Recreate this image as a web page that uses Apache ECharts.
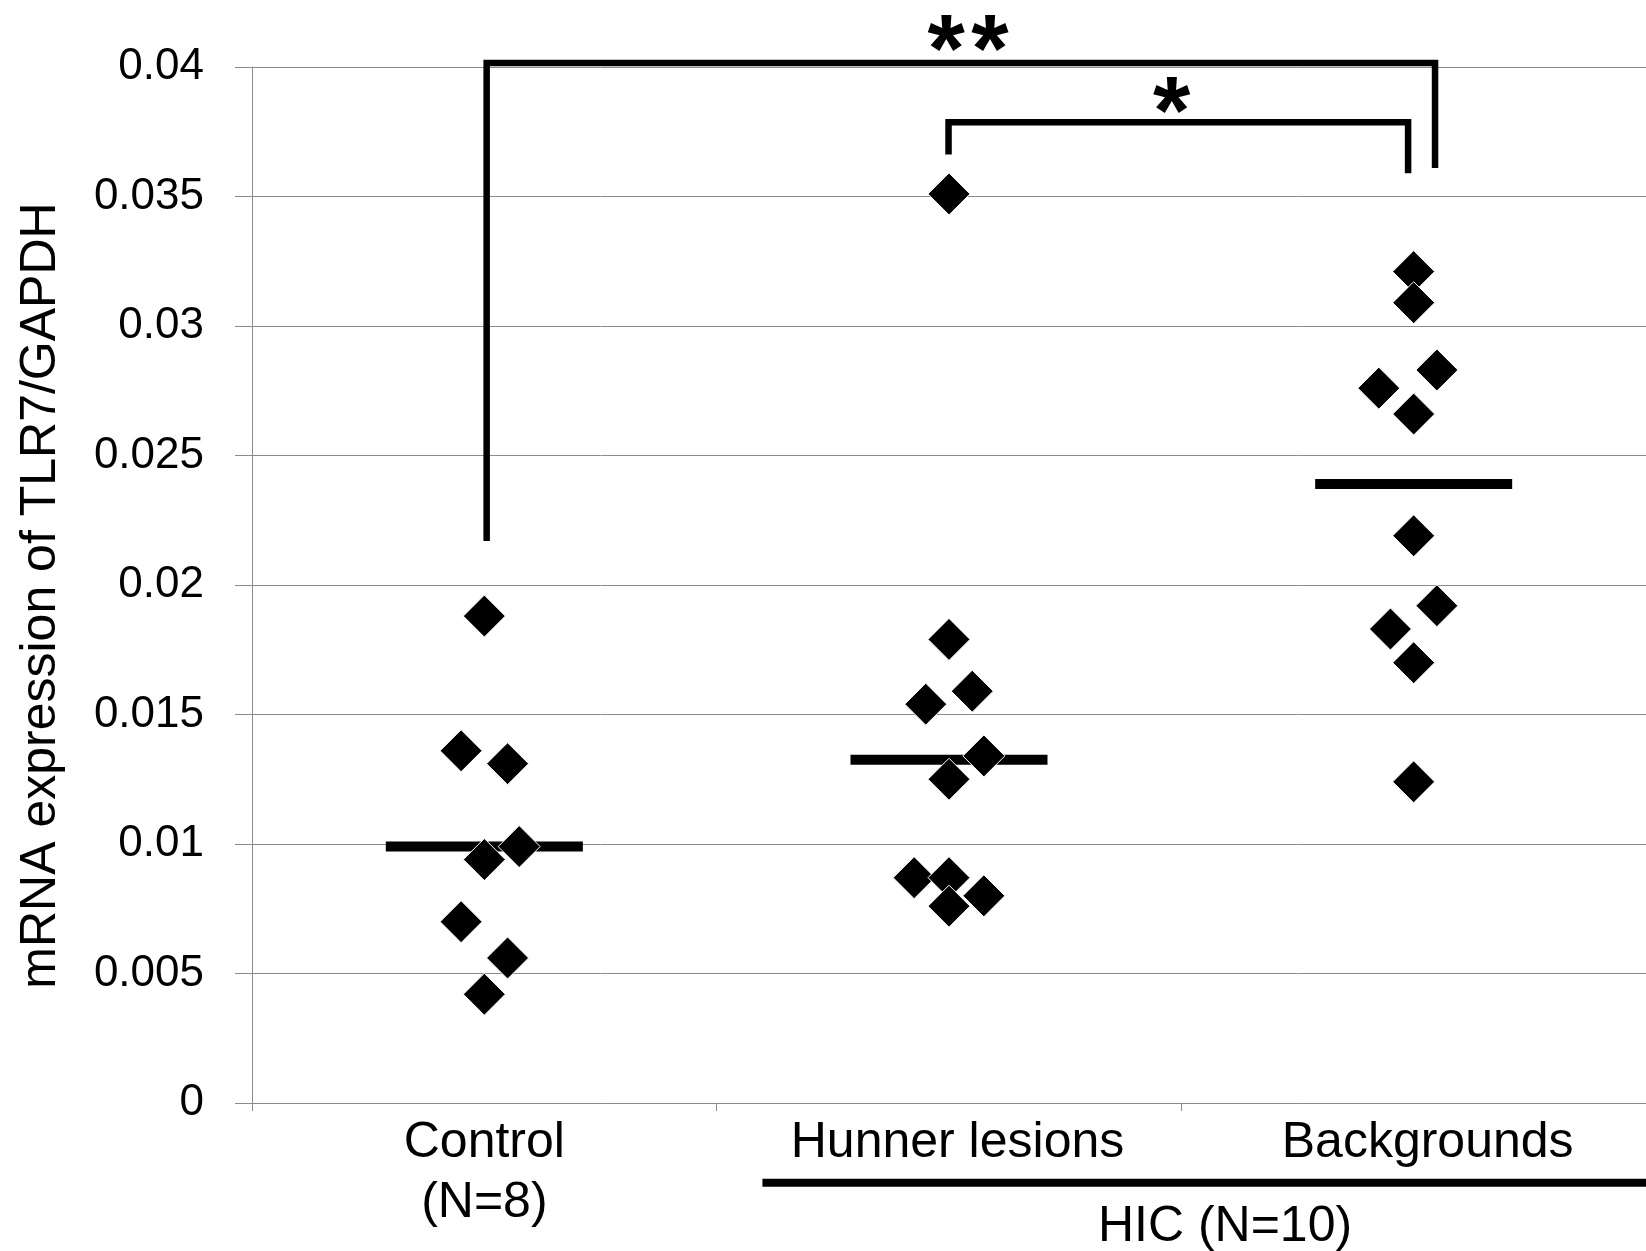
<!DOCTYPE html>
<html><head><meta charset="utf-8">
<script src="https://cdn.jsdelivr.net/npm/echarts@6/dist/echarts.min.js"></script>
<style>html,body{margin:0;padding:0;background:#fff}#chart{width:1646px;height:1251px}</style>
</head><body><div id="chart"></div>
<script>
const categories = ['Control\n(N=8)', 'Hunner lesions', 'Backgrounds'];
const controlValues = [0.0188, 0.0136, 0.0131, 0.0099, 0.0094, 0.0070, 0.0056, 0.0042];
const controlJitter = [0, -0.05, 0.05, 0.075, 0, -0.05, 0.05, 0];
const hunnerValues = [0.0351, 0.0179, 0.0159, 0.0154, 0.0134, 0.0125, 0.0087, 0.0087, 0.0080, 0.0076];
const hunnerJitter = [0, 0, 0.05, -0.05, 0.075, 0, -0.075, 0, 0.075, 0];
const backgroundValues = [0.0321, 0.0309, 0.0283, 0.0276, 0.0266, 0.0219, 0.0192, 0.0183, 0.0170, 0.0124];
const backgroundJitter = [0, 0, 0.05, -0.075, 0, 0, 0.05, -0.05, 0, 0];
const medians = [0.0099, 0.01325, 0.0239];
const yTickLabels = ['0', '0.005', '0.01', '0.015', '0.02', '0.025', '0.03', '0.035', '0.04'];
const outerBracket = [[0.505, 0.0217], [0.505, 0.04015], [2.546, 0.04015], [2.546, 0.0361]];
const innerBracket = [[1.499, 0.03662], [1.499, 0.03787], [2.488, 0.03787], [2.488, 0.0359]];
const sigMarks = [['*', 1.494, 0.0405], ['*', 1.588, 0.0405], ['*', 1.979, 0.0381]];
const groupLine = [[1.0985, -0.00308], [3.05, -0.00308]];
const groupLabel = ['HIC (N=10)', 2.094, -0.00479];

const FONT = 'Liberation Sans, Arial, sans-serif';
const GRAY = '#8c8c8c';

const groups = [[controlValues, controlJitter], [hunnerValues, hunnerJitter], [backgroundValues, backgroundJitter]];
const points = [];
groups.forEach(([vals, jit], i) => vals.forEach((v, k) => points.push([i + 0.5 + jit[k], v])));

const medianSeries = medians.map((m, i) => ({
  type: 'line', xAxisIndex: 1, yAxisIndex: 0, showSymbol: false, symbol: 'none', silent: true, z: 3,
  data: [[i + 0.5 - 0.212, m], [i + 0.5 + 0.212, m]],
  lineStyle: { color: '#000', width: 10, cap: 'butt', opacity: 1 }
}));

const bracketSeries = [outerBracket, innerBracket, groupLine].map((d, i) => ({
  type: 'line', xAxisIndex: 1, yAxisIndex: 0, showSymbol: false, symbol: 'none', clip: false, silent: true, z: 4,
  data: d,
  lineStyle: { color: '#000', width: i === 2 ? 8 : 6.5, cap: 'butt', join: 'miter', opacity: 1 }
}));

const textSeries = {
  type: 'scatter', xAxisIndex: 1, yAxisIndex: 0, clip: false, silent: true, symbolSize: 0, z: 6,
  itemStyle: { opacity: 1 },
  data: sigMarks.map(s => ({ value: [s[1], s[2]], name: s[0], label: { fontSize: 96, fontWeight: 'bold' } }))
    .concat([{ value: [groupLabel[1], groupLabel[2]], name: groupLabel[0], label: { fontSize: 50, fontWeight: 'normal' } }]),
  label: { show: true, position: 'inside', formatter: p => p.name, color: '#000', fontFamily: FONT, opacity: 1 }
};

const labelShift = { 'Hunner lesions': 17, 'Backgrounds': 28 };

const chart = echarts.init(document.getElementById('chart'), null, { renderer: 'canvas' });
chart.setOption({
  animation: false,
  backgroundColor: '#fff',
  grid: { left: 252, top: 67, width: 1401, height: 1036 },
  xAxis: [
    {
      type: 'category', data: categories, boundaryGap: true,
      axisLine: { show: true, lineStyle: { color: GRAY, width: 1 } },
      axisTick: { show: true, length: 8, lineStyle: { color: GRAY } },
      axisLabel: {
        fontSize: 50, lineHeight: 60, margin: 10, color: '#000', fontFamily: FONT, interval: 0,
        formatter: v => labelShift[v] ? '{s' + labelShift[v] + '|' + v + '}' : v,
        rich: {
          s17: { fontSize: 50, lineHeight: 60, color: '#000', fontFamily: FONT, padding: [0, 0, 0, 17] },
          s28: { fontSize: 50, lineHeight: 60, color: '#000', fontFamily: FONT, padding: [0, 0, 0, 28] }
        }
      },
      splitLine: { show: false }
    },
    { type: 'value', min: 0, max: 3, show: false }
  ],
  yAxis: {
    type: 'value', min: 0, max: 0.04, interval: 0.005,
    name: 'mRNA expression of TLR7/GAPDH', nameLocation: 'middle', nameGap: 186,
    nameTextStyle: { fontSize: 50, color: '#000', fontFamily: FONT, padding: [0, 21, 0, 0] },
    axisLine: { show: true, lineStyle: { color: GRAY, width: 1 } },
    axisTick: { show: true, length: 17, lineStyle: { color: GRAY } },
    axisLabel: { fontSize: 44, margin: 48, color: '#000', fontFamily: FONT,
      formatter: v => yTickLabels[Math.round(v / 0.005)] },
    splitLine: { show: true, lineStyle: { color: GRAY, width: 1 } }
  },
  series: [
    ...medianSeries,
    ...bracketSeries,
    {
      type: 'scatter', xAxisIndex: 1, yAxisIndex: 0, symbol: 'diamond', symbolSize: 42, z: 5,
      data: points, itemStyle: { color: '#000', opacity: 1, borderColor: '#fff', borderWidth: 1 }
    },
    textSeries
  ]
});
</script>
</body></html>
